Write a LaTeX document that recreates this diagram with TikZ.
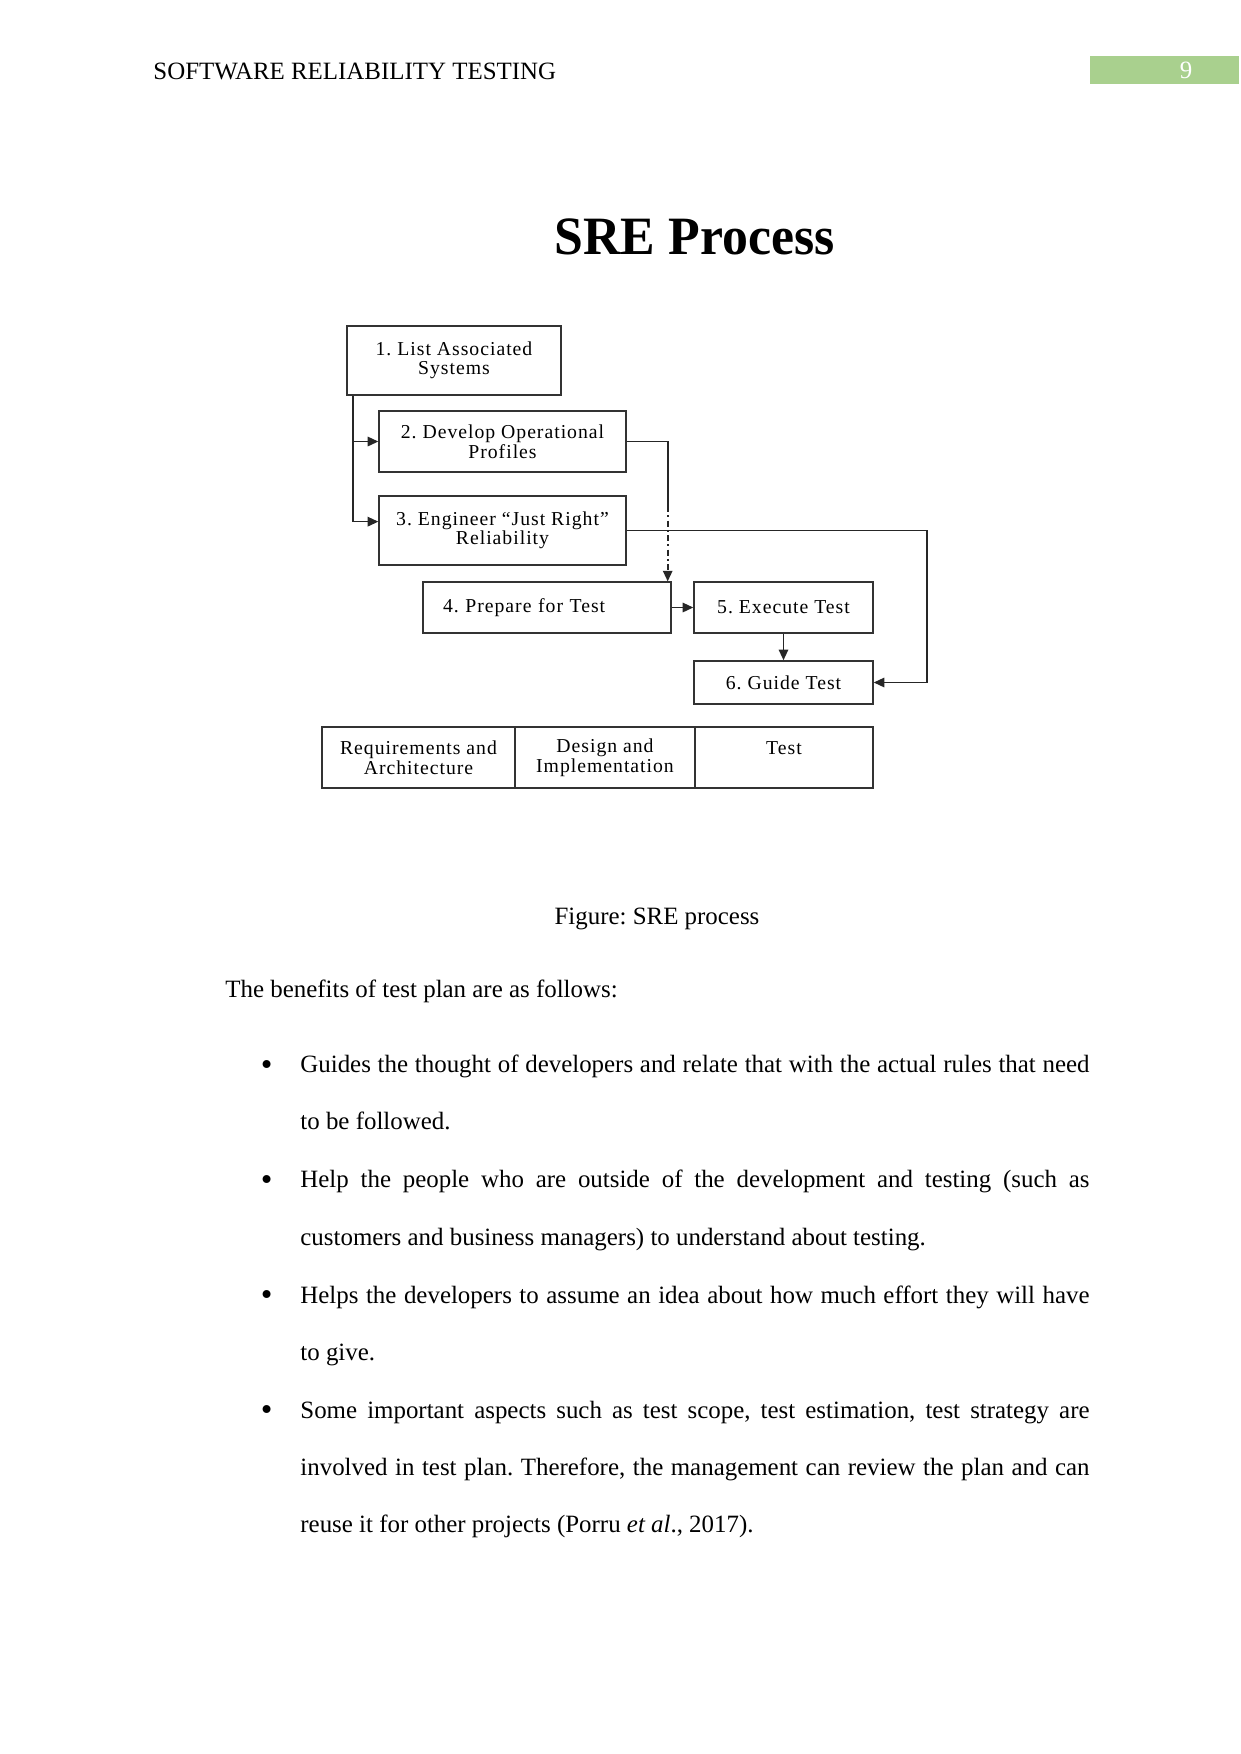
\documentclass[tikz,border=0pt]{standalone}
\usepackage{fontspec}
\setmainfont{Liberation Serif}
\newfontfamily\boxfont[LetterSpace=5]{Liberation Serif}
\usetikzlibrary{arrows.meta}
\definecolor{pagegreen}{RGB}{169,208,142}
\newcommand{\fullline}[1]{\makebox[133.6mm][s]{#1}}
\frenchspacing

\begin{document}
\begin{tikzpicture}[x=0.1693mm,y=-0.1693mm,>={Triangle[length=1.8mm,width=1.6mm]},
  box/.style={draw=black!80,line width=0.7pt,inner sep=0pt,align=center,font=\fontsize{9.5}{9.4}\boxfont},
  conn/.style={draw=black!85,line width=0.8pt},
  body/.style={anchor=base west,inner sep=0pt,font=\fontsize{12}{14}\selectfont},
  bullet/.style={anchor=base,inner sep=0pt,font=\fontsize{16}{16}\selectfont}]
\useasboundingbox (0,0) rectangle (1241,1754);
% running head
\node[body] (head) at (153,79) {SOFTWARE RELIABILITY TESTING};
\fill[pagegreen] (1090,56) rectangle (1239,84);
\node[body,anchor=base,text=white] (pgno) at (1186,78.5) {9};
% figure
\node[anchor=base,inner sep=0pt,xscale=0.96,font=\fontsize{26}{30}\selectfont\bfseries] (title) at (694.5,254) {SRE Process};
\node[box,minimum width=36.2mm,minimum height=11.7mm] (b1) at (454,360.5) {1. List Associated\\Systems};
\node[box,minimum width=41.8mm,minimum height=10.3mm] (b2) at (502.5,441.5) {2. Develop Operational\\Profiles};
\node[box,minimum width=41.8mm,minimum height=11.7mm] (b3) at (502.5,530.5) {3. Engineer “Just Right”\\Reliability};
\node[box,text width=35.2mm,inner xsep=3.4mm,align=left,minimum height=8.6mm] (b4) at (547,607.5) {4. Prepare for Test};
\node[box,minimum width=30.3mm,minimum height=8.6mm] (b5) at (783.5,607.5) {5. Execute Test};
\node[box,minimum width=30.3mm,minimum height=7.3mm] (b6) at (783.5,682.5) {6. Guide Test};
% phases
\node[box,minimum width=32.7mm,minimum height=10.3mm] (reqarch) at (418.5,757.5) {Requirements and\\Architecture};
\node[box,minimum width=30.5mm,minimum height=10.3mm] (desimp) at (605,757.5) {Design and\\Implementation};
\node[box,minimum width=30.1mm,minimum height=10.3mm] (testph) at (784,757.5) {Test\\\mbox{}};
% connectors
\coordinate (trunk) at ([xshift=1.1mm]b1.south west);
\draw[conn,->] (trunk) |- ([yshift=1.5mm]b3.west);
\draw[conn,->] (trunk |- b2.west) -- (b2.west);
\coordinate (drop) at (667.7,506);
\draw[conn] (b2.east) -| (drop);
\draw[conn,dash pattern=on 3pt off 1.5pt on 1pt off 1.5pt,->] (drop) -- (drop |- b4.north);
\coordinate (loop) at (926.7,533.3);
\draw[conn,->] (b3.east) -| (loop |- b6.east) -- (b6.east);
\draw[conn,->] (b4.east) -- (b5.west);
\draw[conn,->] (b5.south) -- (b6.north);
% text
\node[body,anchor=base] (caption) at (657,924) {Figure: SRE process};
\node[body] (intro) at (225,997.7) {The benefits of test plan are as follows:};
\node[bullet] (dot1) at (266.7,1075) {\textbullet};
\node[body] (l1a) at (300,1072.7) {\fullline{Guides the thought of developers and relate that with the actual rules that need}};
\node[body] (l1b) at (300,1129.8) {to be followed.};
\node[bullet] (dot2) at (266.7,1190.2) {\textbullet};
\node[body] (l2a) at (300,1187.9) {\fullline{Help the people who are outside of the development and testing (such as}};
\node[body] (l2b) at (300,1245) {customers and business managers) to understand about testing.};
\node[bullet] (dot3) at (266.7,1305.5) {\textbullet};
\node[body] (l3a) at (300,1303.2) {\fullline{Helps the developers to assume an idea about how much effort they will have}};
\node[body] (l3b) at (300,1360.3) {to give.};
\node[bullet] (dot4) at (266.7,1420.7) {\textbullet};
\node[body] (l4a) at (300,1418.4) {\fullline{Some important aspects such as test scope, test estimation, test strategy are}};
\node[body] (l4b) at (300,1475.5) {\fullline{involved in test plan. Therefore, the management can review the plan and can}};
\node[body] (l4c) at (300,1532.6) {reuse it for other projects (Porru \textit{et al}., 2017).};
\end{tikzpicture}
\end{document}
